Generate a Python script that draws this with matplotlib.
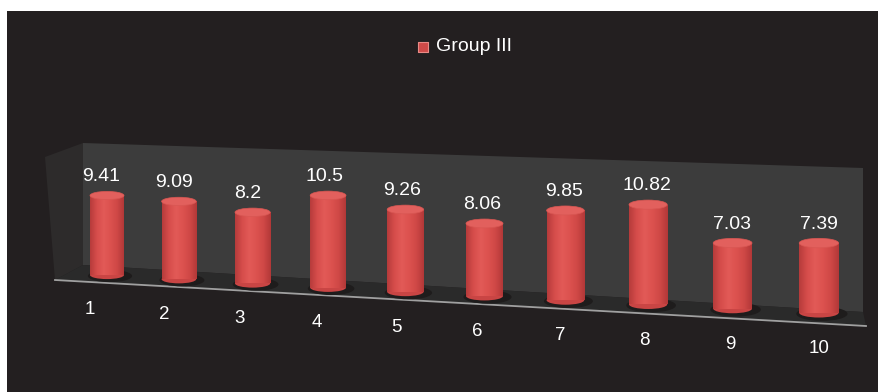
import numpy as np
import matplotlib.pyplot as plt
from matplotlib.patches import Polygon, Ellipse
from matplotlib.colors import LinearSegmentedColormap

# Chart data
groups = ['1', '2', '3', '4', '5', '6', '7', '8', '9', '10']
values = [9.41, 9.09, 8.2, 10.5, 9.26, 8.06, 9.85, 10.82, 7.03, 7.39]
series_name = 'Group III'

plt.rcParams['font.family'] = ['Liberation Sans', 'DejaVu Sans']

bg = '#231f20'
fig = plt.figure(figsize=(8.79, 3.92), dpi=100, facecolor='white')
ax = fig.add_axes([7 / 879, 0, 872 / 879, 381 / 392])
ax.set_facecolor(bg)
for s in ax.spines.values():
    s.set_visible(False)
ax.set_xticks([])
ax.set_yticks([])

# Fake perspective: category position -> screen position (pixels)
idx = np.arange(len(values))
vals = np.array(values)
xs = 107 + 71 * idx + 0.9 * idx ** 2
bases = 275 + 4.2 * idx
scales = 8.45 + 0.11 * idx
widths = 34 + 0.6 * idx

# back wall, side wall and floor
ax.add_patch(Polygon([(45, 157), (83, 143), (83, 265), (55, 280)],
                     closed=True, fc='#2d2b2b', ec='none', zorder=1))
ax.add_patch(Polygon([(83, 143), (863, 168), (863, 312), (83, 265)],
                     closed=True, fc='#3c3c3c', ec='none', zorder=1))
ax.add_patch(Polygon([(83, 265), (863, 312), (866, 326), (55, 280)],
                     closed=True, fc='#2a2a2a', ec='none', zorder=2))
ax.plot([55, 866], [280, 326], color='#a0a0a0', lw=1.3, zorder=3)

cyl = LinearSegmentedColormap.from_list(
    'cyl', ['#b63b3b', '#d64d4b', '#e25a57', '#dc524f', '#cf4846', '#b23838'])
grad = np.linspace(0, 1, 128).reshape(1, -1)

bars = ax.bar(xs, -vals * scales, bottom=bases, width=widths,
              color='none', edgecolor='none', zorder=5)

for i, b in enumerate(bars):
    x0, w = b.get_x(), b.get_width()
    y_bot = b.get_y()
    y_top = y_bot + b.get_height()
    ch = 0.24 * w
    # shadow on floor
    ax.add_patch(Ellipse((x0 + w / 2 + 3, y_bot + 1), w * 1.3, ch * 1.5,
                         fc='#1e1c1c', ec='none', zorder=4))
    # bottom rim
    ax.add_patch(Ellipse((x0 + w / 2, y_bot), w, ch, fc='#c94544', ec='none', zorder=5))
    im = ax.imshow(grad, cmap=cyl, extent=[x0, x0 + w, y_bot, y_top],
                   aspect='auto', interpolation='bilinear', zorder=6)
    im.set_clip_path(b)
    # top cap
    ax.add_patch(Ellipse((x0 + w / 2, y_top), w, ch, fc='#e2605d',
                         ec='#d85652', lw=0.5, zorder=7))
    ax.text(x0 + w / 2 - 6 + 0.7 * i, y_top - 19, f'{values[i]:g}',
            color='white', fontsize=14, ha='center', va='center', zorder=8)
    ax.text(x0 + w / 2 - 17 + 1.9 * i, 310 + 4.3 * i, groups[i],
            color='white', fontsize=13.5, ha='center', va='center', zorder=8)

# legend
ax.scatter([423], [47], marker='s', s=55, c='#cf4a48', edgecolors='#e98a86',
           linewidths=0.8, zorder=8)
ax.text(436, 47, series_name, color='white', fontsize=14, ha='left',
        va='center', zorder=8)

ax.set_xlim(7, 879)
ax.set_ylim(392, 11)

fig.savefig('out.png', dpi=100, facecolor='white')
